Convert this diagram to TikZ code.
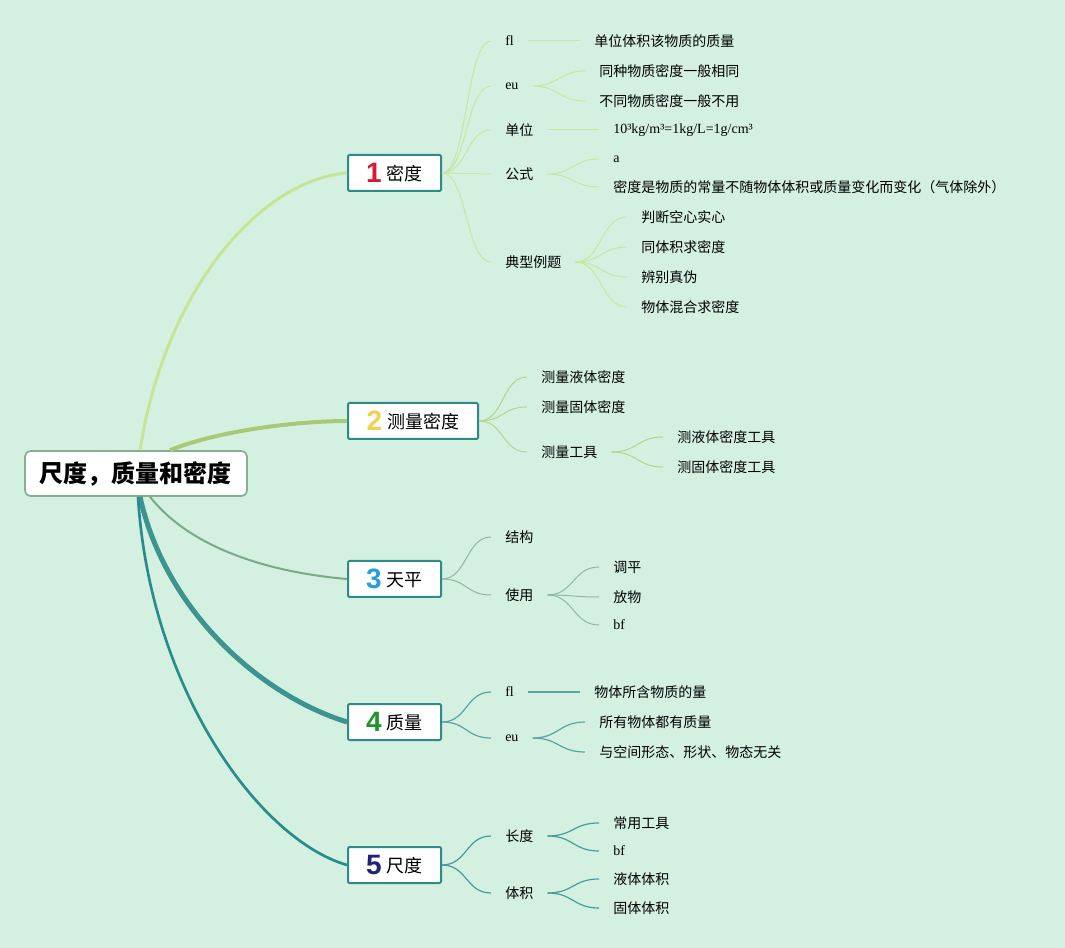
\documentclass[tikz,border=0pt]{standalone}
\usepackage{fontspec}
\newfontfamily\cjk{Noto Sans CJK SC}
\newfontfamily\serl{Liberation Serif}
\newfontfamily\numf{Liberation Sans}

\begin{document}
\begin{tikzpicture}[x=0.75pt,y=0.75pt,yscale=-1,xscale=1,
  root/.style={draw={rgb, 255:red, 134; green, 174; blue, 144 }, line width=1.2pt, fill=white, rounded corners=4pt, minimum width=166.5pt, minimum height=33.75pt, inner sep=0pt, font=\cjk\bfseries\fontsize{18}{20}\selectfont},
  topic/.style={draw={rgb, 255:red, 47; green, 138; blue, 138 }, line width=1.5pt, fill=white, rounded corners=1pt, anchor=west, minimum width=69.75pt, minimum height=27pt, inner sep=0pt, font=\cjk\fontsize{13.5}{15}\selectfont},
  leaf/.style={anchor=west, inner xsep=10.5pt, inner ysep=1pt, font=\cjk\fontsize{10.5}{12}\selectfont},
  leafl/.style={leaf, font=\serl\fontsize{10.5}{12}\selectfont},
  br1/.style={draw={rgb, 255:red, 197; green, 228; blue, 150 }, line width=2.25pt},
  br2/.style={draw={rgb, 255:red, 168; green, 202; blue, 118 }, line width=3pt},
  br3/.style={draw={rgb, 255:red, 122; green, 170; blue, 135 }, line width=1.5pt},
  br4/.style={draw={rgb, 255:red, 60; green, 148; blue, 144 }, line width=3.75pt},
  br5/.style={draw={rgb, 255:red, 40; green, 140; blue, 140 }, line width=2pt},
  tw1/.style={draw={rgb, 255:red, 200; green, 230; blue, 160 }, line width=0.75pt},
  tw2/.style={draw={rgb, 255:red, 180; green, 214; blue, 140 }, line width=0.75pt},
  tw3/.style={draw={rgb, 255:red, 140; green, 185; blue, 160 }, line width=0.75pt},
  tw4/.style={draw={rgb, 255:red, 90; green, 165; blue, 160 }, line width=0.9pt},
  tw5/.style={draw={rgb, 255:red, 70; green, 155; blue, 155 }, line width=0.9pt}
]
\useasboundingbox (0,0) rectangle (1065,948);
%Shape: Background
\fill [color={rgb, 255:red, 212; green, 240; blue, 225 }] (0,0) rectangle (1065,948);

%Shape: Rounded Rect
\draw (136,473.5) node [root] (root) {尺度，质量和密度};

%Shape: Rectangle
\draw (347,173) node [topic] (t1) {\raisebox{-1.5pt}{\numf\bfseries\fontsize{21}{21}\selectfont\textcolor[RGB]{215,25,50}{1}}\hspace{4pt}密度};
%Shape: Rectangle
\draw (347,421) node [topic, minimum width=97.5pt] (t2) {\raisebox{-1.5pt}{\numf\bfseries\fontsize{21}{21}\selectfont\textcolor[RGB]{240,210,80}{2}}\hspace{4pt}测量密度};
%Shape: Rectangle
\draw (347,579) node [topic] (t3) {\raisebox{-1.5pt}{\numf\bfseries\fontsize{21}{21}\selectfont\textcolor[RGB]{40,155,225}{3}}\hspace{4pt}天平};
%Shape: Rectangle
\draw (347,722) node [topic] (t4) {\raisebox{-1.5pt}{\numf\bfseries\fontsize{21}{21}\selectfont\textcolor[RGB]{30,150,40}{4}}\hspace{4pt}质量};
%Shape: Rectangle
\draw (347,865) node [topic] (t5) {\raisebox{-1.5pt}{\numf\bfseries\fontsize{21}{21}\selectfont\textcolor[RGB]{30,35,120}{5}}\hspace{4pt}尺度};

% Text Node
\draw (491,41) node [leafl] (a1) {fl};
\draw (580,41) node [leaf] (a1x) {单位体积该物质的质量};
\draw (491,86) node [leafl] (a2) {eu};
\draw (585,71) node [leaf] (a2a) {同种物质密度一般相同};
\draw (585,101) node [leaf] (a2b) {不同物质密度一般不用};
\draw (491,130) node [leaf] (a3) {单位};
\draw (599,130) node [leafl] (a3x) {10³kg/m³=1kg/L=1g/cm³};
\draw (491,174) node [leaf] (a4) {公式};
\draw (599,159) node [leafl] (a4a) {a};
\draw (599,187) node [leaf] (a4b) {密度是物质的常量不随物体体积或质量变化而变化（气体除外）};
\draw (491,262) node [leaf] (a5) {典型例题};
\draw (627,217) node [leaf] (a5a) {判断空心实心};
\draw (627,247) node [leaf] (a5b) {同体积求密度};
\draw (627,277) node [leaf] (a5c) {辨别真伪};
\draw (627,307) node [leaf] (a5d) {物体混合求密度};
% Text Node
\draw (527,377) node [leaf] (b1) {测量液体密度};
\draw (527,407) node [leaf] (b2) {测量固体密度};
\draw (527,452) node [leaf] (b3) {测量工具};
\draw (663,437) node [leaf] (b3a) {测液体密度工具};
\draw (663,467) node [leaf] (b3b) {测固体密度工具};
% Text Node
\draw (491,537) node [leaf] (c1) {结构};
\draw (491,595) node [leaf] (c2) {使用};
\draw (599,567) node [leaf] (c2a) {调平};
\draw (599,597) node [leaf] (c2b) {放物};
\draw (599,625) node [leafl] (c2c) {bf};
% Text Node
\draw (491,692) node [leafl] (d1) {fl};
\draw (580,692) node [leaf] (d1x) {物体所含物质的量};
\draw (491,738) node [leafl] (d2) {eu};
\draw (585,722) node [leaf] (d2a) {所有物体都有质量};
\draw (585,752) node [leaf] (d2b) {与空间形态、形状、物态无关};
% Text Node
\draw (491,836) node [leaf] (e1) {长度};
\draw (599,823) node [leaf] (e1a) {常用工具};
\draw (599,851) node [leafl] (e1b) {bf};
\draw (491,893) node [leaf] (e2) {体积};
\draw (599,879) node [leaf] (e2a) {液体体积};
\draw (599,908) node [leaf] (e2b) {固体体积};

%Curve Lines
\draw [br1] ([xshift=3pt]root.north) .. controls (165,290) and (260,180) .. (t1.west);
\draw [br2] ([xshift=25.5pt]root.north) .. controls (220,430) and (300,421) .. (t2.west);
\draw [br3] ([xshift=10.5pt]root.south) .. controls (200,560) and (300,575) .. (t3.west);
\draw [br4] ([xshift=3pt]root.south) .. controls (165,610) and (260,695) .. (t4.west);
\draw [br5] ([xshift=1.5pt]root.south) .. controls (150,690) and (260,840) .. (t5.west);

%Curve Lines
\draw [tw1] (t1.east) .. controls +(25,0) and +(-25,0) .. (a1.west);
\draw [tw1] (t1.east) .. controls +(25,0) and +(-25,0) .. (a2.west);
\draw [tw1] (t1.east) .. controls +(25,0) and +(-25,0) .. (a3.west);
\draw [tw1] (t1.east) .. controls +(25,0) and +(-25,0) .. (a4.west);
\draw [tw1] (t1.east) .. controls +(25,0) and +(-25,0) .. (a5.west);
\draw [tw1] (a1.east) -- (a1x.west);
\draw [tw1] (a2.east) .. controls +(26,0) and +(-26,0) .. (a2a.west);
\draw [tw1] (a2.east) .. controls +(26,0) and +(-26,0) .. (a2b.west);
\draw [tw1] (a3.east) -- (a3x.west);
\draw [tw1] (a4.east) .. controls +(26,0) and +(-26,0) .. (a4a.west);
\draw [tw1] (a4.east) .. controls +(26,0) and +(-26,0) .. (a4b.west);
\draw [tw1] (a5.east) .. controls +(26,0) and +(-26,0) .. (a5a.west);
\draw [tw1] (a5.east) .. controls +(26,0) and +(-26,0) .. (a5b.west);
\draw [tw1] (a5.east) .. controls +(26,0) and +(-26,0) .. (a5c.west);
\draw [tw1] (a5.east) .. controls +(26,0) and +(-26,0) .. (a5d.west);
%Curve Lines
\draw [tw2] (t2.east) .. controls +(25,0) and +(-25,0) .. (b1.west);
\draw [tw2] (t2.east) .. controls +(25,0) and +(-25,0) .. (b2.west);
\draw [tw2] (t2.east) .. controls +(25,0) and +(-25,0) .. (b3.west);
\draw [tw2] (b3.east) .. controls +(26,0) and +(-26,0) .. (b3a.west);
\draw [tw2] (b3.east) .. controls +(26,0) and +(-26,0) .. (b3b.west);
%Curve Lines
\draw [tw3] (t3.east) .. controls +(25,0) and +(-25,0) .. (c1.west);
\draw [tw3] (t3.east) .. controls +(25,0) and +(-25,0) .. (c2.west);
\draw [tw3] (c2.east) .. controls +(26,0) and +(-26,0) .. (c2a.west);
\draw [tw3] (c2.east) .. controls +(26,0) and +(-26,0) .. (c2b.west);
\draw [tw3] (c2.east) .. controls +(26,0) and +(-26,0) .. (c2c.west);
%Curve Lines
\draw [tw4] (t4.east) .. controls +(25,0) and +(-25,0) .. (d1.west);
\draw [tw4] (t4.east) .. controls +(25,0) and +(-25,0) .. (d2.west);
\draw [tw4] (d1.east) -- (d1x.west);
\draw [tw4] (d2.east) .. controls +(26,0) and +(-26,0) .. (d2a.west);
\draw [tw4] (d2.east) .. controls +(26,0) and +(-26,0) .. (d2b.west);
%Curve Lines
\draw [tw5] (t5.east) .. controls +(25,0) and +(-25,0) .. (e1.west);
\draw [tw5] (t5.east) .. controls +(25,0) and +(-25,0) .. (e2.west);
\draw [tw5] (e1.east) .. controls +(26,0) and +(-26,0) .. (e1a.west);
\draw [tw5] (e1.east) .. controls +(26,0) and +(-26,0) .. (e1b.west);
\draw [tw5] (e2.east) .. controls +(26,0) and +(-26,0) .. (e2a.west);
\draw [tw5] (e2.east) .. controls +(26,0) and +(-26,0) .. (e2b.west);
\end{tikzpicture}
\end{document}
